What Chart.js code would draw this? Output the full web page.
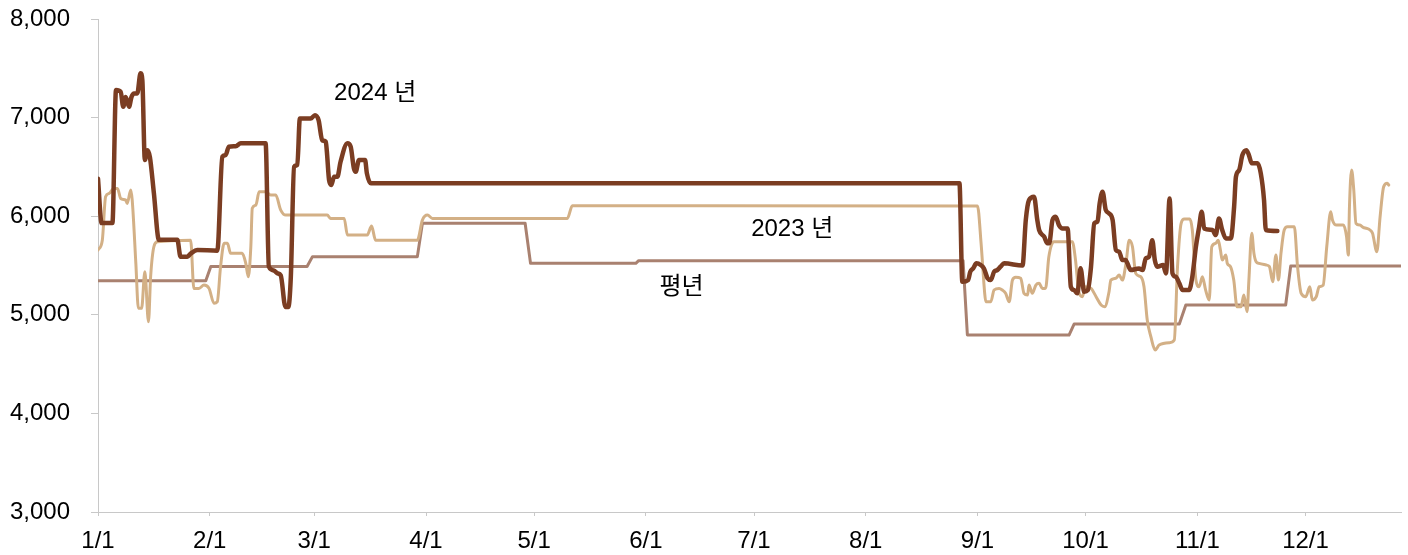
<!DOCTYPE html>
<html>
<head>
<meta charset="utf-8">
<script src="https://cdn.jsdelivr.net/npm/chart.js@4.4.1/dist/chart.umd.min.js"></script>
<style>
html,body{margin:0;padding:0;background:#fff;}
#c{display:block;}
</style>
</head>
<body>
<canvas id="c" width="1408" height="555"></canvas>
<script>
// x = day of year (0 = 1/1, leap year), y = value
const monthTickDays = [0,31,60,91,121,152,182,213,244,274,305,335];
const monthTickLabels = ['1/1','2/1','3/1','4/1','5/1','6/1','7/1','8/1','9/1','10/1','11/1','12/1'];
const yTicks = [3000,4000,5000,6000,7000,8000];

const days2024 = [0,1,4,5,6.3,7,7.7,8.6,9.3,10,10.9,11.8,12.3,13,13.7,14.4,15.5,16.9,22,22.9,24.8,25.7,27.6,33.1,34.5,35.4,36.3,38.2,39.6,46.5,47.4,48.8,49.8,50.7,52,52.8,53.5,54.4,55.3,56,59,60.2,61.2,62.2,63.2,63.5,64.1,64.7,65.5,66.4,67.3,69.2,70.1,71,71.5,72.4,74.1,74.6,75.7,
  239,239.8,241.4,242,242.8,243.7,244.9,245.8,246.8,247.7,248.6,249.5,250.4,251.4,256.5,257.4,258.3,259.7,260.6,261.1,262.5,263.4,263.9,264.8,265.7,266.6,267.6,269,269.9,270.8,271.7,272.6,273.6,274.6,275.5,276.4,277.3,277.9,278.7,279.6,280.5,281.5,282.4,283.3,284.2,285.1,285.6,286.5,288.8,289.8,290.7,291.6,292.5,293.2,293.9,295.5,296.3,297.3,298.1,299,300,300.9,302.7,303.6,304.6,305.5,306.2,306.9,309.2,310.1,311,311.9,312.9,314.3,315.2,315.7,316.6,317.5,318.6,319.3,320.1,321.7,322.6,323.5,324,327.2];
const vals2024 = [6380,5930,5930,7280,7260,7110,7210,7110,7210,7245,7245,7450,7380,6570,6670,6600,6235,5760,5760,5590,5590,5620,5657,5650,6603,6620,6705,6710,6740,6740,5488,5450,5420,5400,5080,5080,5386,6500,6520,6990,6990,7025,6975,6770,6755,6653,6367,6316,6400,6400,6552,6740,6705,6484,6450,6570,6570,6434,6333,
  6333,5335,5352,5437,5471,5522,5505,5470,5370,5352,5437,5454,5488,5522,5500,5960,6163,6197,5960,5860,5792,5725,5725,5960,5995,5910,5876,5876,5285,5251,5218,5471,5234,5250,5488,5928,5945,6130,6248,6062,6029,5960,5657,5640,5555,5555,5522,5454,5470,5454,5572,5590,5757,5555,5488,5505,5420,6180,5420,5386,5319,5251,5251,5386,5690,5893,6045,5876,5860,5809,5977,5860,5775,5775,6096,6400,6468,6620,6670,6620,6536,6536,6434,6163,5860,5850];

const days2023 = [0,1.2,2.1,3.1,4.4,5.4,6.3,7.7,8.1,9.1,9.5,10.5,11.2,12.1,13,14,14.6,15.5,16.5,25.7,26.6,28,29.4,30.8,32.2,33.1,34,35,35.9,36.8,40,41,41.7,42.4,42.8,43.8,44.7,46.5,47.9,49.3,50.7,52.1,63.6,64.5,68.3,69.2,74.7,75.9,77,88.6,90,91.4,92.8,130.2,131.6,
  244,245,246,246.3,247.7,248.6,250,250.9,251.8,252.8,253.7,254.6,256,256.9,257.9,258.3,259.2,260.2,261.1,262,262.9,263.8,265.2,270.3,271.2,272.1,273.1,273.9,275.5,276.9,278.3,279.3,280.5,281,282.4,283.3,284.2,285.2,286.1,287,287.9,289.3,290.2,291.1,292.1,293.3,294.4,297.2,298.6,299.5,300.5,301.4,302.9,303.6,304.6,305.5,306.4,307.3,308.3,309,310.1,310.8,311.4,311.9,312.9,313.3,314.2,315.1,316,317.1,317.9,318.8,319.3,320.1,320.7,321.3,322.1,324.1,325,325.9,326.8,327.5,328.2,329.1,330,331.9,332.8,333.8,335.1,336.2,336.9,338,338.8,339.9,340.9,342,342.5,343.6,345.5,346.4,346.9,347.2,347.8,348.4,349,350.1,351,352,352.9,353.6,354.8,355.7,356.7,357.7,358.1];
const vals2023 = [5657,5757,6197,6231,6282,6282,6180,6163,6130,6265,6160,5522,5066,5066,5437,4930,5386,5690,5741,5757,5268,5268,5302,5268,5116,5133,5488,5725,5725,5623,5623,5522,5386,5690,6080,6113,6248,6248,6214,6214,6062,6011,6011,5977,5977,5809,5809,5900,5757,5757,5960,6011,5977,5977,6106,
  6103,5725,5218,5133,5133,5251,5268,5251,5218,5133,5352,5380,5370,5218,5200,5302,5218,5302,5319,5268,5270,5589,5741,5741,5555,5234,5184,5285,5268,5184,5099,5082,5234,5352,5370,5403,5352,5522,5757,5690,5420,5386,5285,4947,4778,4643,4693,4717,4744,5488,5928,5971,5971,5860,5352,5285,5386,5251,5150,5690,5725,5757,5657,5555,5606,5522,5488,5352,5082,5082,5200,5031,5352,5827,5623,5539,5522,5505,5488,5335,5606,5352,5623,5860,5893,5893,5488,5218,5184,5285,5150,5184,5285,5300,5690,6045,5960,5910,5910,5792,5606,6096,6468,6265,5928,5910,5887,5876,5860,5826,5640,5994,6300,6333,6316];

const daysNormal = [0,29.9,31.3,58,59.5,88.6,90,118.5,120,149.2,150,240,241.2,269.4,270.8,300,301.8,329.5,330.9,361.5];
const valsNormal = [5345,5345,5490,5490,5590,5590,5928,5928,5522,5522,5549,5549,4795,4795,4906,4906,5099,5099,5494,5494];

const seriesNames = ['2024 년','2023 년','평년'];
// annotation anchors in data units [day, value]
const labelDays = [76.9, 192.6, 161.9];
const labelVals = [7249, 5870, 5282];

function pts(d, v){ return d.map((x,i)=>({x:x,y:v[i]})); }

const FONT = '"Liberation Sans", Arial, "Noto Sans CJK KR", sans-serif';

const textPlugin = {
  id:'textLabels',
  afterDatasetsDraw(chart){
    const {ctx, scales:{x,y}} = chart;
    ctx.save();
    ctx.fillStyle = '#000';
    ctx.font = '24px ' + FONT;
    ctx.textAlign = 'center';
    ctx.textBaseline = 'middle';
    seriesNames.forEach((n,i)=>{
      ctx.fillText(n, x.getPixelForValue(labelDays[i]), y.getPixelForValue(labelVals[i]));
    });
    ctx.restore();
  }
};

new Chart(document.getElementById('c'), {
  type:'line',
  data:{
    datasets:[
      {label:seriesNames[0], data:pts(days2024, vals2024), borderColor:'#7b3d22', borderWidth:4.5, cubicInterpolationMode:'monotone', pointRadius:0, borderJoinStyle:'round', borderCapStyle:'round'},
      {label:seriesNames[1], data:pts(days2023, vals2023), borderColor:'#d3b086', borderWidth:3, cubicInterpolationMode:'monotone', pointRadius:0, borderJoinStyle:'round', borderCapStyle:'round'},
      {label:seriesNames[2], data:pts(daysNormal, valsNormal), borderColor:'#a98170', borderWidth:3, tension:0, pointRadius:0, borderJoinStyle:'round', borderCapStyle:'round'}
    ]
  },
  options:{
    responsive:false,
    animation:false,
    devicePixelRatio:1,
    layout:{padding:{top:0, right:7, bottom:0, left:0}},
    plugins:{legend:{display:false}, tooltip:{enabled:false}},
    scales:{
      x:{
        type:'linear', min:0, max:361.5,
        afterBuildTicks(s){ s.ticks = monthTickDays.map(v=>({value:v})); },
        afterFit(s){ s.height = 43; },
        ticks:{
          callback(v){ const i = monthTickDays.indexOf(v); return i>=0 ? monthTickLabels[i] : ''; },
          font:{size:24, family:FONT}, color:'#000', padding:11, maxRotation:0, autoSkip:false
        },
        grid:{drawOnChartArea:false, drawTicks:true, tickLength:4, color:'#c8c8c8'},
        border:{color:'#c8c8c8', width:1}
      },
      y:{
        min:3000, max:8000,
        afterBuildTicks(s){ s.ticks = yTicks.map(v=>({value:v})); },
        afterFit(s){ s.width = 98; s.paddingTop = 19; s.paddingBottom = 0; },
        ticks:{
          callback(v){ return v.toLocaleString('en-US'); },
          font:{size:24, family:FONT}, color:'#000', padding:21
        },
        grid:{drawOnChartArea:false, drawTicks:true, tickLength:7, color:'#c8c8c8'},
        border:{color:'#c8c8c8', width:1}
      }
    }
  },
  plugins:[textPlugin]
});
</script>
</body>
</html>
